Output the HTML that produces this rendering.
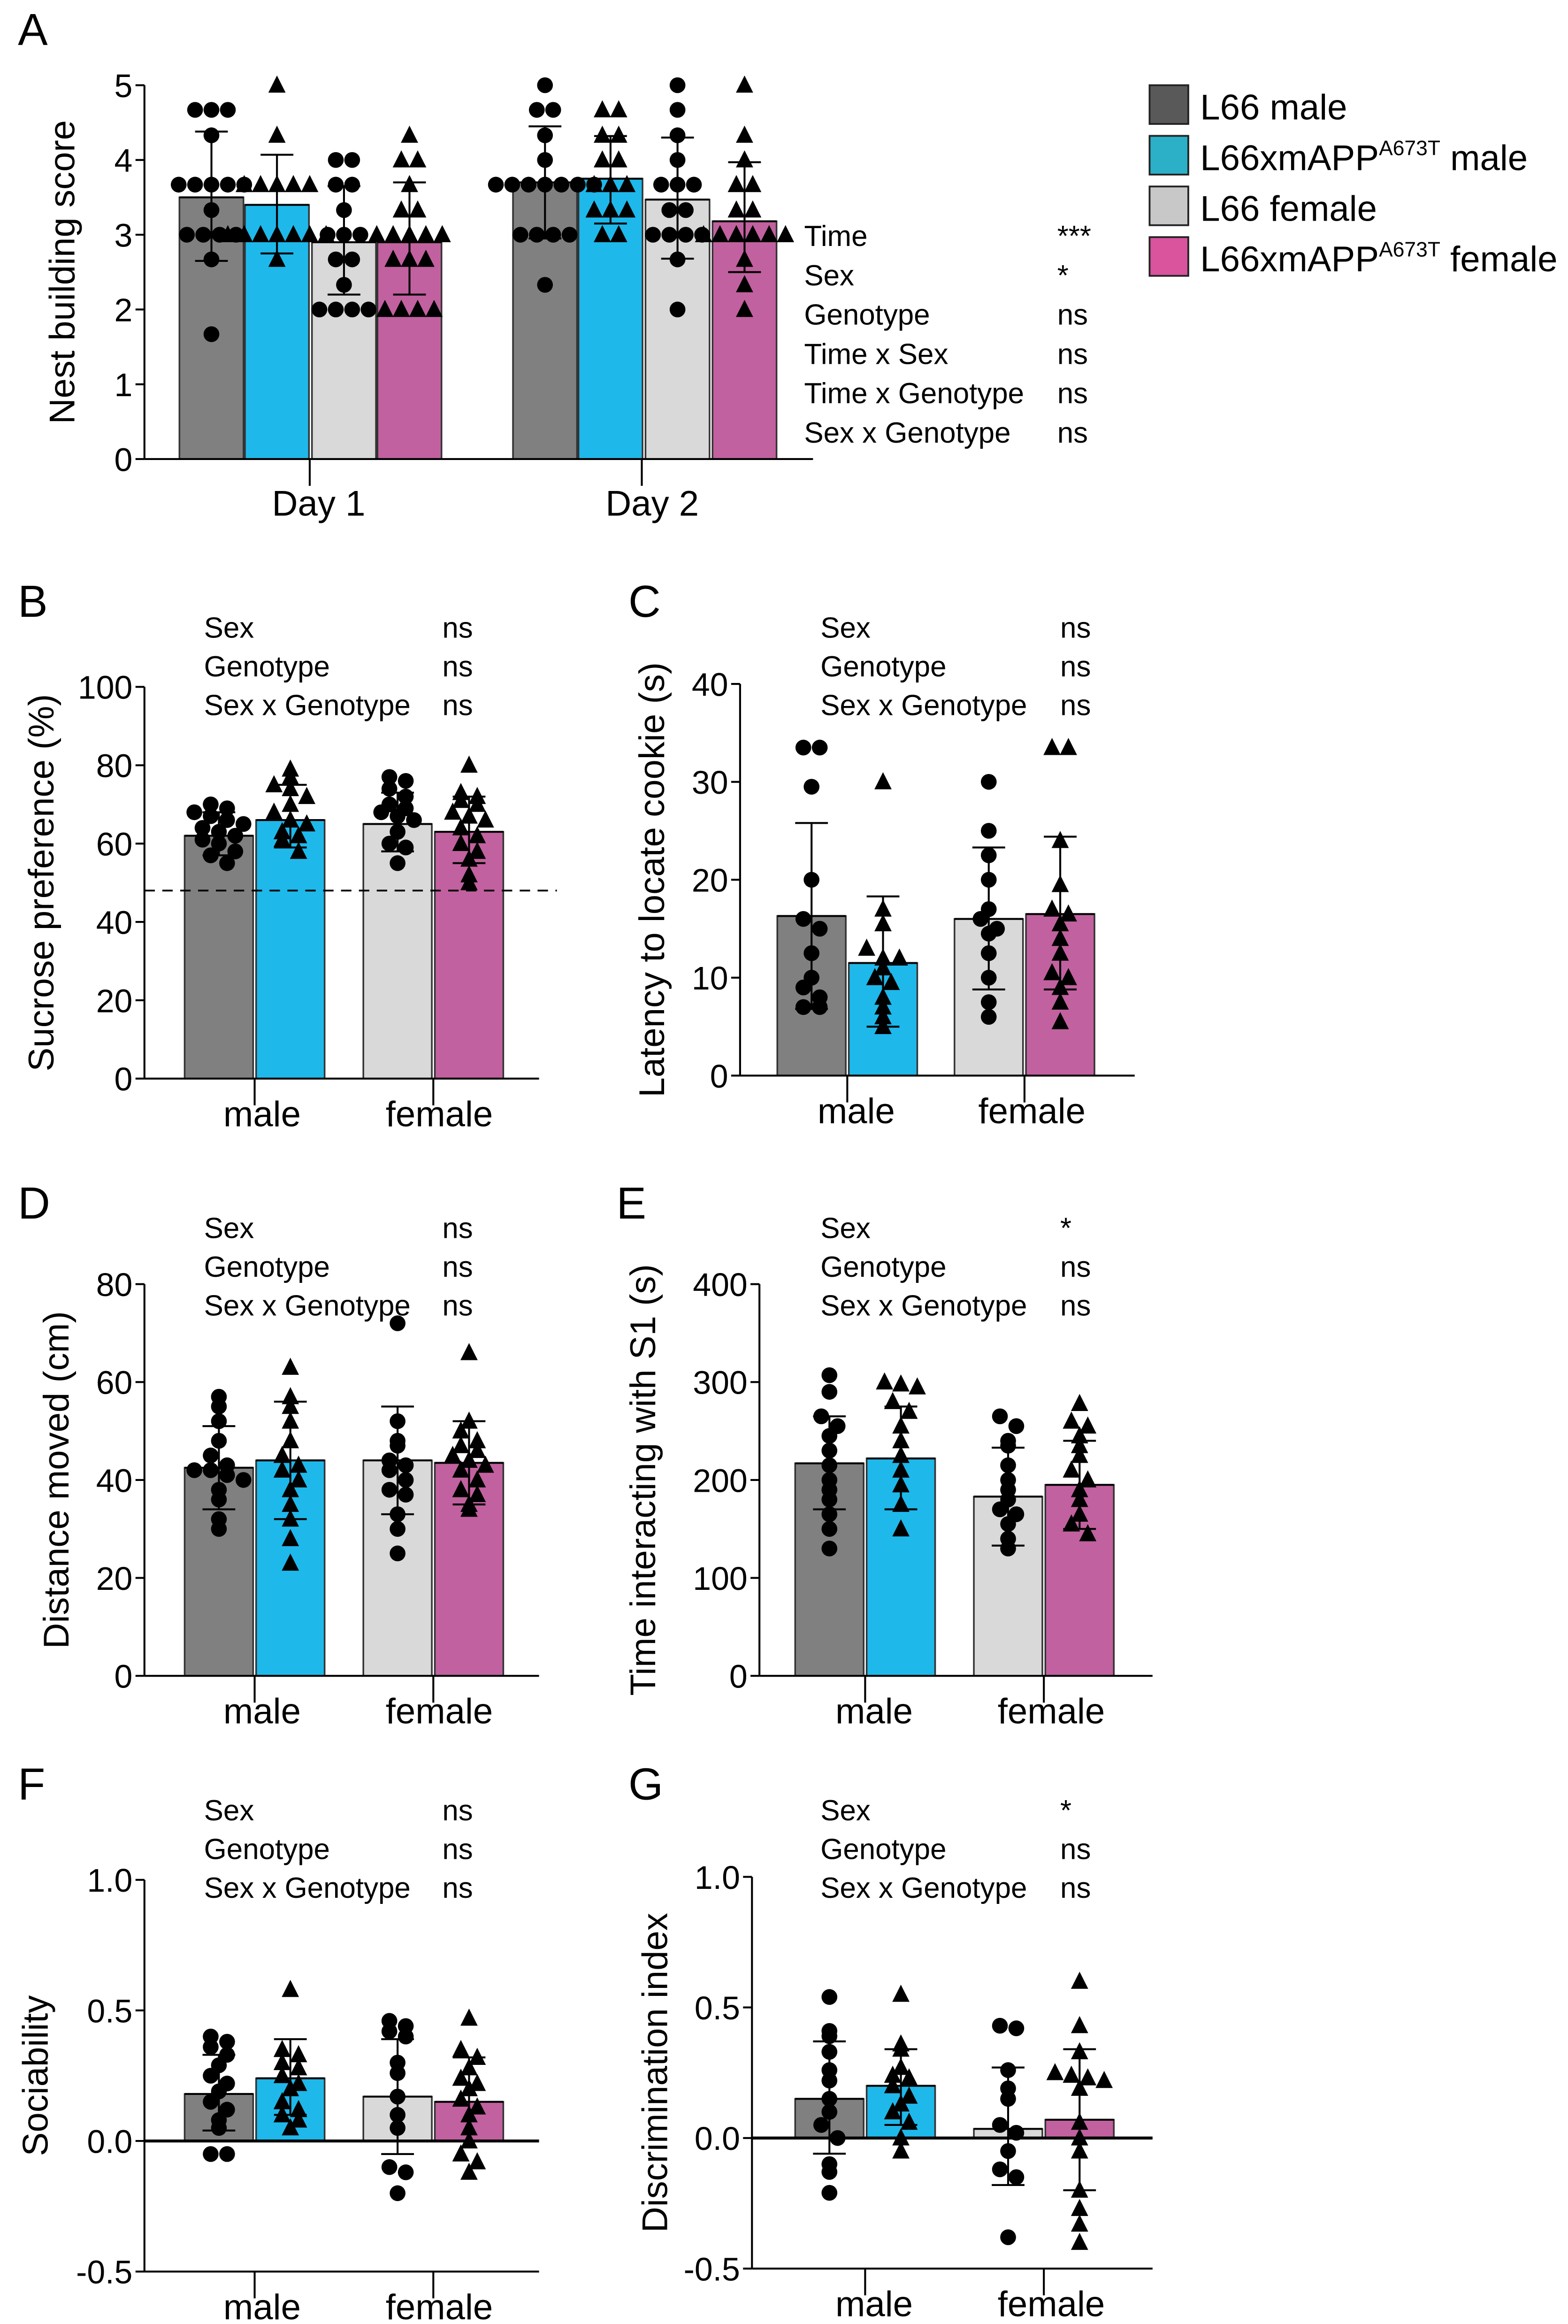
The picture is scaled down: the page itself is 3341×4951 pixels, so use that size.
<!DOCTYPE html>
<html><head><meta charset="utf-8">
<style>
html,body{margin:0;padding:0;background:#fff;}
svg{display:block;}
text{font-family:"Liberation Sans Narrow","Liberation Sans",sans-serif;fill:#000;}
.yl{font-family:"Liberation Sans",sans-serif;}
</style></head>
<body>
<svg id="fig" xmlns="http://www.w3.org/2000/svg" width="3341" height="4951" viewBox="0 0 1053 1560">
<rect width="1053" height="1560" fill="#fff"/>
<g id="legend">
  <rect x="772" y="57" width="26" height="26" fill="#595959" stroke="#222" stroke-width="1.2"/>
  <text x="806" y="80" font-size="24" class="yl">L66 male</text>
  <rect x="772" y="91" width="26" height="26" fill="#2bb0c8" stroke="#222" stroke-width="1.2"/>
  <text x="806" y="114" font-size="24" class="yl">L66xmAPP<tspan font-size="14" dy="-10">A673T</tspan><tspan dy="10"> male</tspan></text>
  <rect x="772" y="125" width="26" height="26" fill="#c8c8c8" stroke="#222" stroke-width="1.2"/>
  <text x="806" y="148" font-size="24" class="yl">L66 female</text>
  <rect x="772" y="159" width="26" height="26" fill="#d9539d" stroke="#222" stroke-width="1.2"/>
  <text x="806" y="182" font-size="24" class="yl">L66xmAPP<tspan font-size="14" dy="-10">A673T</tspan><tspan dy="10"> female</tspan></text>
</g>
</svg>
<script>
// ---------- Data ----------
const colors = ["#808080","#1fb8ea","#d9d9d9","#c2619f"];
const shapes = ["circle","triangle","circle","triangle"];

// Panel A (nest building)
const aCategories = ["Day 1","Day 2"];
const aMeans = [3.5,3.4,2.9,2.9, 3.7,3.75,3.47,3.18];
const aLo = [2.65,2.75,2.2,2.2, 2.95,3.15,2.68,2.5];
const aHi = [4.38,4.07,3.65,3.7, 4.45,4.32,4.3,3.97];
const aPts0 = [4.67,4.67,4.67,4.33,3.67,3.67,3.67,3.67,3.67,3.33,3,3,3,3,2.67,1.67];
const aPts1 = [5,4.33,3.67,3.67,3.67,3.67,3.67,3,3,3,3,3,3,3,2.67];
const aPts2 = [4,4,3.67,3.67,3.33,3,3,3,2.67,2.67,2.33,2,2,2,2];
const aPts3 = [4.33,4,4,3.67,3.33,3.33,3,3,3,3,3,2.67,2.67,2.67,2,2,2,2];
const aPts4 = [5,4.67,4.67,4.33,4,3.67,3.67,3.67,3.67,3.67,3.67,3.67,3,3,3,3,2.33];
const aPts5 = [4.67,4.67,4.33,4.33,4,4,3.67,3.67,3.67,3.33,3.33,3.33,3,3];
const aPts6 = [5,4.67,4.33,4,3.67,3.67,3.67,3.33,3.33,3,3,3,3,2.67,2];
const aPts7 = [5,4.33,4,3.67,3.67,3.33,3.33,3,3,3,3,3,3,2.67,2.33,2];
const aTicks = [0,1,2,3,4,5];
const aStatsLabels = ["Time","Sex","Genotype","Time x Sex","Time x Genotype","Sex x Genotype"];
const aStatsValues = ["***","*","ns","ns","ns","ns"];

const sexCategories = ["male","female"];
// Panel B
const bMeans = [62,66,65,63]; const bLo = [57,59,58,55]; const bHi = [68,75,73,72];
const bPts0 = [70,69,68,67,66,65,64,63,62,61,60,58,57,55];
const bPts1 = [79,77,75,74,72,70,68,66,65,63,62,61,58];
const bPts2 = [77,76,74,72,70,69,68,67,66,63,60,59,55];
const bPts3 = [80,73,72,71,70,68,67,66,64,62,60,58,56,52,50];
const bTicks = [0,20,40,60,80,100];
const bStatsValues = ["ns","ns","ns"];
// Panel C
const cMeans = [16.3,11.5,16,16.5]; const cLo = [6.8,5,8.8,8.8]; const cHi = [25.8,18.3,23.3,24.4];
const cPts0 = [33.5,33.5,29.5,20,16,15,12.5,10,9,8,7,7];
const cPts1 = [30,17,15.5,13,12,12,11,10,9.5,8,7,6,5];
const cPts2 = [30,25,22.5,20,17,16,15,14.5,12.5,10,7.5,6];
const cPts3 = [33.5,33.5,24,19.5,17,16.5,15.5,14,12.5,10.5,10,9,7.5,5.5];
const cTicks = [0,10,20,30,40];
const cStatsValues = ["ns","ns","ns"];
// Panel D
const dMeans = [42.5,44,44,43.5]; const dLo = [34,32,33,35]; const dHi = [51,56,55,52];
const dPts0 = [57,55,52,48,45,43,42,42,41,40,38,36,32,30];
const dPts1 = [63,57,55,52,48,45,43,42,40,38,35,32,28,23];
const dPts2 = [72,52,48,47,44,43,42,40,38,37,33,30,25];
const dPts3 = [66,52,50,48,47,46,45,44,43,42,40,38,37,35,34];
const dTicks = [0,20,40,60,80];
const dStatsValues = ["ns","ns","ns"];
// Panel E
const eMeans = [217,222,183,195]; const eLo = [170,170,133,150]; const eHi = [265,275,233,240];
const ePts0 = [307,290,265,255,245,230,215,200,190,180,165,150,130];
const ePts1 = [300,298,295,280,270,255,240,225,210,195,175,150];
const ePts2 = [265,255,240,235,215,200,190,180,170,165,155,140,130];
const ePts3 = [278,260,255,245,235,225,210,200,190,180,165,155,145];
const eTicks = [0,100,200,300,400];
const eStatsValues = ["*","ns","ns"];
// Panel F
const fMeans = [0.18,0.24,0.17,0.15]; const fLo = [0.04,0.10,-0.05,0.0]; const fHi = [0.33,0.39,0.39,0.32];
const fPts0 = [0.40,0.38,0.36,0.33,0.29,0.25,0.22,0.19,0.15,0.12,0.08,0.05,-0.05,-0.05];
const fPts1 = [0.58,0.35,0.33,0.30,0.28,0.25,0.22,0.20,0.15,0.12,0.10,0.08,0.05];
const fPts2 = [0.46,0.44,0.42,0.40,0.30,0.26,0.17,0.10,0.05,-0.10,-0.12,-0.20];
const fPts3 = [0.47,0.35,0.32,0.28,0.24,0.22,0.20,0.16,0.13,0.10,0.05,0.0,-0.05,-0.08,-0.12];
const fTicks = [-0.5,0,0.5,1.0];
const fTickLabels = ["-0.5","0.0","0.5","1.0"];
const fStatsValues = ["ns","ns","ns"];
// Panel G
const gMeans = [0.15,0.20,0.035,0.07]; const gLo = [-0.06,0.05,-0.18,-0.2]; const gHi = [0.37,0.34,0.27,0.34];
const gPts0 = [0.54,0.41,0.39,0.33,0.26,0.22,0.15,0.10,0.05,0,-0.10,-0.13,-0.21];
const gPts1 = [0.55,0.36,0.34,0.27,0.24,0.23,0.20,0.16,0.13,0.10,0.06,0,-0.05];
const gPts2 = [0.43,0.42,0.26,0.19,0.15,0.05,0.02,-0.05,-0.12,-0.15,-0.38];
const gPts3 = [0.60,0.43,0.33,0.25,0.24,0.23,0.22,0.19,0.06,0,-0.05,-0.20,-0.27,-0.33,-0.40];
const gTicks = [-0.5,0,0.5,1.0];
const gTickLabels = ["-0.5","0.0","0.5","1.0"];
const gStatsValues = ["*","ns","ns"];
const threeStats = ["Sex","Genotype","Sex x Genotype"];

// ---------- Drawing ----------
const NS = "http://www.w3.org/2000/svg";
const svg = document.getElementById("fig");
function mk(tag, attrs, parent){
  const e = document.createElementNS(NS, tag);
  for (const k in attrs) e.setAttribute(k, attrs[k]);
  (parent||svg).appendChild(e);
  return e;
}
function panel(c){
  const g = mk("g", {});
  
  
  const ys = v => c.py0 + (v - c.vmin) * (c.py1 - c.py0) / (c.vmax - c.vmin);
  const L = mk("text", {x:c.letterX, y:c.letterY, "font-size":30, class:"yl"}, g);
  L.textContent = c.letter;
  
  
  const bw = c.barW;
  c.means.forEach((m,i)=>{
    const cx = c.barCenters[i];
    const top = ys(m), base = ys(c.base);
    const r = mk("rect", {x:cx-bw/2, y:Math.min(top,base), width:bw, height:Math.abs(base-top), fill:colors[i%4], stroke:"#333", "stroke-width":1.1}, g);
    
    
  });
  c.points.forEach((arr,i)=>{
    const cx = c.barCenters[i];
    const bins = {};
    arr.forEach(v=>{ const k = Math.round(ys(v)/9); (bins[k]=bins[k]||[]).push(v); });
    Object.values(bins).forEach(list=>{
      const n = list.length;
      list.forEach((v,j)=>{
        const x = cx + (j - (n-1)/2) * 11;
        const y = ys(v);
        let p;
        if (shapes[i%4]==="circle") p = mk("circle", {cx:x, cy:y, r:5.3, fill:"#000"}, g);
        else p = mk("polygon", {points:`${x},${y-6.5} ${x-5.8},${y+5} ${x+5.8},${y+5}`, fill:"#000"}, g);
        
        
      });
    });
  });
  c.means.forEach((m,i)=>{
    const cx = c.barCenters[i];
    const e = mk("path", {d:`M${cx},${ys(c.lo[i])}V${ys(c.hi[i])}M${cx-11},${ys(c.lo[i])}H${cx+11}M${cx-11},${ys(c.hi[i])}H${cx+11}M${cx-bw/2},${ys(m)}H${cx+bw/2}`, stroke:"#000", "stroke-width":1.3, fill:"none"}, g);
    
    
  });
  const ya = mk("line", {x1:c.ax, x2:c.ax, y1:ys(c.vmax), y2:ys(c.vmin), stroke:"#000", "stroke-width":1.3}, g);
  
  
  c.ticks.forEach((t,k)=>{
    mk("line", {x1:c.ax-6, x2:c.ax, y1:ys(t), y2:ys(t), stroke:"#000", "stroke-width":1.3}, g);
    const tl = mk("text", {x:c.ax-8, y:ys(t)+8, "font-size":22, "text-anchor":"end"}, g);
    tl.textContent = c.tickLabels ? c.tickLabels[k] : String(t);
    
    
  });
  const xa = mk("line", {x1:c.ax, x2:c.axEnd, y1:ys(c.base), y2:ys(c.base), stroke:"#000", "stroke-width":c.base===c.vmin?1.3:2}, g);
  
  
  if (c.base !== c.vmin) mk("line", {x1:c.ax, x2:c.axEnd, y1:ys(c.vmin), y2:ys(c.vmin), stroke:"#000", "stroke-width":1.3}, g);
  c.groupTicks.forEach((gx,k)=>{
    mk("line", {x1:gx, x2:gx, y1:ys(c.vmin), y2:ys(c.vmin)+18, stroke:"#000", "stroke-width":1.3}, g);
    const xl = mk("text", {x:c.groupLabelX[k], y:ys(c.vmin)+c.labelDy, "font-size":24, "text-anchor":"middle", class:"yl"}, g);
    xl.textContent = c.categories[k];
    
    
  });
  const yl = mk("text", {x:0, y:0, "font-size":24, "text-anchor":"middle", class:"yl", transform:`translate(${c.ylabX},${(ys(c.vmin)+ys(c.vmax))/2}) rotate(-90)`}, g);
  yl.textContent = c.ylabel;
  
  
  c.statLabels.forEach((s,k)=>{
    const t1 = mk("text", {x:c.statX, y:c.statY + k*c.statDy, "font-size":19.5}, g);
    t1.textContent = s;
    
    
    const t2 = mk("text", {x:c.statVX, y:c.statY + k*c.statDy, "font-size":19.5}, g);
    t2.textContent = c.statValues[k];
    
    
  });
  return ys;
}

panel({name:"panel-a-nest-building", letter:"A", letterX:12, letterY:30, vmin:0, vmax:5, py0:308, py1:57, base:0,
  ax:97, axEnd:546, barW:43, barCenters:[142,186,231,275, 366,410,455,500],
  means:aMeans, lo:aLo, hi:aHi, points:[aPts0,aPts1,aPts2,aPts3,aPts4,aPts5,aPts6,aPts7],
  ticks:aTicks, groupTicks:[208,431], groupLabelX:[214,438], categories:aCategories, labelDy:38,
  ylabel:"Nest building score", ylabX:50, statLabels:aStatsLabels, statValues:aStatsValues,
  statX:540, statVX:710, statY:165, statDy:26.4});

const sexBase = {ax:97, axEnd:362, barW:46, barCenters:[147,195,267,315], groupTicks:[171,291], groupLabelX:[176,295], categories:sexCategories, labelDy:32, statLabels:threeStats, statX:137, statVX:297, statDy:26};

panel(Object.assign({}, sexBase, {name:"panel-b-sucrose", letter:"B", letterX:12, letterY:414, vmin:0, vmax:100, py0:724, py1:461, base:0,
  means:bMeans, lo:bLo, hi:bHi, points:[bPts0,bPts1,bPts2,bPts3], ticks:bTicks,
  ylabel:"Sucrose preference (%)", ylabX:36, statValues:bStatsValues, statY:428}));
(function(){
  const l = mk("line", {x1:97, x2:374, y1:724-48*2.63, y2:724-48*2.63, stroke:"#000", "stroke-width":1.2, "stroke-dasharray":"7,5"});
  
  
})();

panel({name:"panel-c-cookie", letter:"C", letterX:422, letterY:414, vmin:0, vmax:40, py0:722, py1:459, base:0,
  ax:497, axEnd:762, barW:46, barCenters:[545,593,664,712], groupTicks:[569,688], groupLabelX:[575,693], categories:sexCategories, labelDy:32,
  means:cMeans, lo:cLo, hi:cHi, points:[cPts0,cPts1,cPts2,cPts3], ticks:cTicks,
  ylabel:"Latency to locate cookie (s)", ylabX:446, statLabels:threeStats, statValues:cStatsValues,
  statX:551, statVX:712, statY:428, statDy:26});

panel(Object.assign({}, sexBase, {name:"panel-d-distance", letter:"D", letterX:12, letterY:818, vmin:0, vmax:80, py0:1125, py1:862, base:0,
  means:dMeans, lo:dLo, hi:dHi, points:[dPts0,dPts1,dPts2,dPts3], ticks:dTicks,
  ylabel:"Distance moved (cm)", ylabX:46, statValues:dStatsValues, statY:831}));

panel({name:"panel-e-interaction", letter:"E", letterX:414, letterY:818, vmin:0, vmax:400, py0:1125, py1:862, base:0,
  ax:510, axEnd:774, barW:46, barCenters:[557,605,677,725], groupTicks:[581,701], groupLabelX:[587,706], categories:sexCategories, labelDy:32,
  means:eMeans, lo:eLo, hi:eHi, points:[ePts0,ePts1,ePts2,ePts3], ticks:eTicks,
  ylabel:"Time interacting with S1 (s)", ylabX:440, statLabels:threeStats, statValues:eStatsValues,
  statX:551, statVX:712, statY:831, statDy:26});

panel(Object.assign({}, sexBase, {name:"panel-f-sociability", letter:"F", letterX:12, letterY:1208, vmin:-0.5, vmax:1.0, py0:1525, py1:1262, base:0,
  means:fMeans, lo:fLo, hi:fHi, points:[fPts0,fPts1,fPts2,fPts3], ticks:fTicks, tickLabels:fTickLabels,
  ylabel:"Sociability", ylabX:32, statValues:fStatsValues, statY:1222}));

panel({name:"panel-g-discrimination", letter:"G", letterX:422, letterY:1208, vmin:-0.5, vmax:1.0, py0:1523, py1:1260, base:0,
  ax:505, axEnd:774, barW:46, barCenters:[557,605,677,725], groupTicks:[581,701], groupLabelX:[587,706], categories:sexCategories, labelDy:32,
  means:gMeans, lo:gLo, hi:gHi, points:[gPts0,gPts1,gPts2,gPts3], ticks:gTicks, tickLabels:gTickLabels,
  ylabel:"Discrimination index", ylabX:448, statLabels:threeStats, statValues:gStatsValues,
  statX:551, statVX:712, statY:1222, statDy:26});
</script>
</body></html>
